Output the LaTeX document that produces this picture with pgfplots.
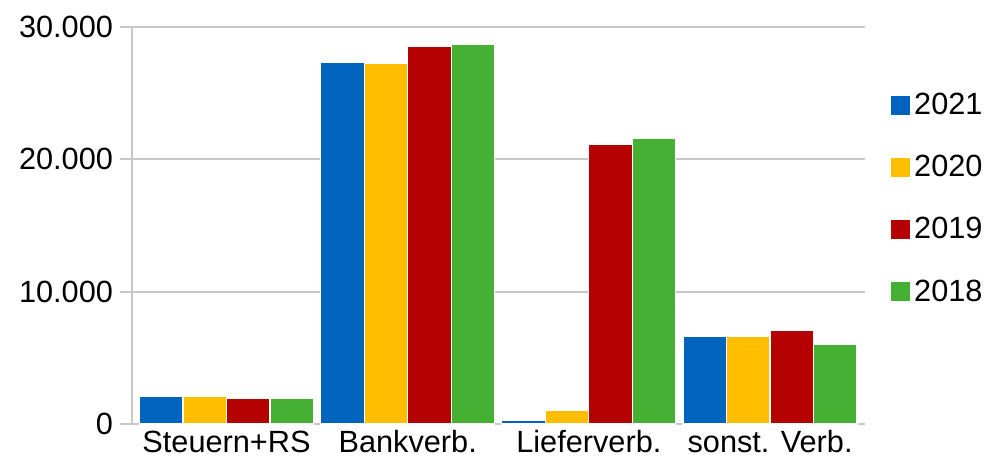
\documentclass[border=0pt]{standalone}
\usepackage{fontspec}
\setmainfont{Liberation Sans}
\usepackage{pgfplots}
\pgfplotsset{compat=1.18}
\definecolor{c21}{HTML}{0063BE}
\definecolor{c20}{HTML}{FFBF00}
\definecolor{c19}{HTML}{B50000}
\definecolor{c18}{HTML}{46B035}
\definecolor{gridc}{HTML}{C8C8C8}
\newcommand{\chartfont}{\fontsize{15.35}{18}\selectfont}
\begin{document}
\begin{tikzpicture}
\path[use as bounding box] (0,0) rectangle (497pt,228.5pt);
\begin{axis}[
  at={(66pt,16.5pt)}, anchor=south west, scale only axis,
  width=366.5pt, height=198.5pt,
  xmin=-0.5215, xmax=3.524, ymin=0, ymax=30000,
  ybar=0pt, bar width=21.75pt,
  xtick={0,1,2,3},
  xticklabels={Steuern+RS,Bankverb.,Lieferverb.,sonst. Verb.},
  ytick={0,10000,20000,30000},
  scaled y ticks=false,
  axis x line=bottom, axis y line=left,
  axis line style={-, draw=gridc, line width=1pt},
  ymajorgrids, grid style={draw=gridc, line width=1pt},
  xtick style={draw=none},
  ytick style={draw=gridc, line width=1pt},
  major tick length=6pt, tick align=outside,
  tick label style={font=\chartfont},
  xticklabel style={inner sep=0pt, yshift=2.9pt},
  /pgf/number format/.cd, 1000 sep={.}, assume math mode=true, /pgfplots/.cd,
  every axis plot/.append style={draw=white, line width=0.6pt},
  legend style={at={(1.027,0.568)}, anchor=west, draw=none, fill=none,
    font=\chartfont, row sep=14.9pt,
    /tikz/every even column/.append style={column sep=8pt}},
  legend cell align=left,
  legend image code/.code={\path[#1, draw=none] (0pt,-4.75pt) rectangle (9.5pt,4.75pt);},
]
\addplot[fill=c21] coordinates {(0,2060) (1,27320) (2,300) (3,6590)};
\addplot[fill=c20] coordinates {(0,2060) (1,27250) (2,1000) (3,6590)};
\addplot[fill=c19] coordinates {(0,1960) (1,28530) (2,21130) (3,7040)};
\addplot[fill=c18] coordinates {(0,1960) (1,28680) (2,21580) (3,5980)};
\legend{2021,2020,2019,2018}
\end{axis}
\end{tikzpicture}
\end{document}
